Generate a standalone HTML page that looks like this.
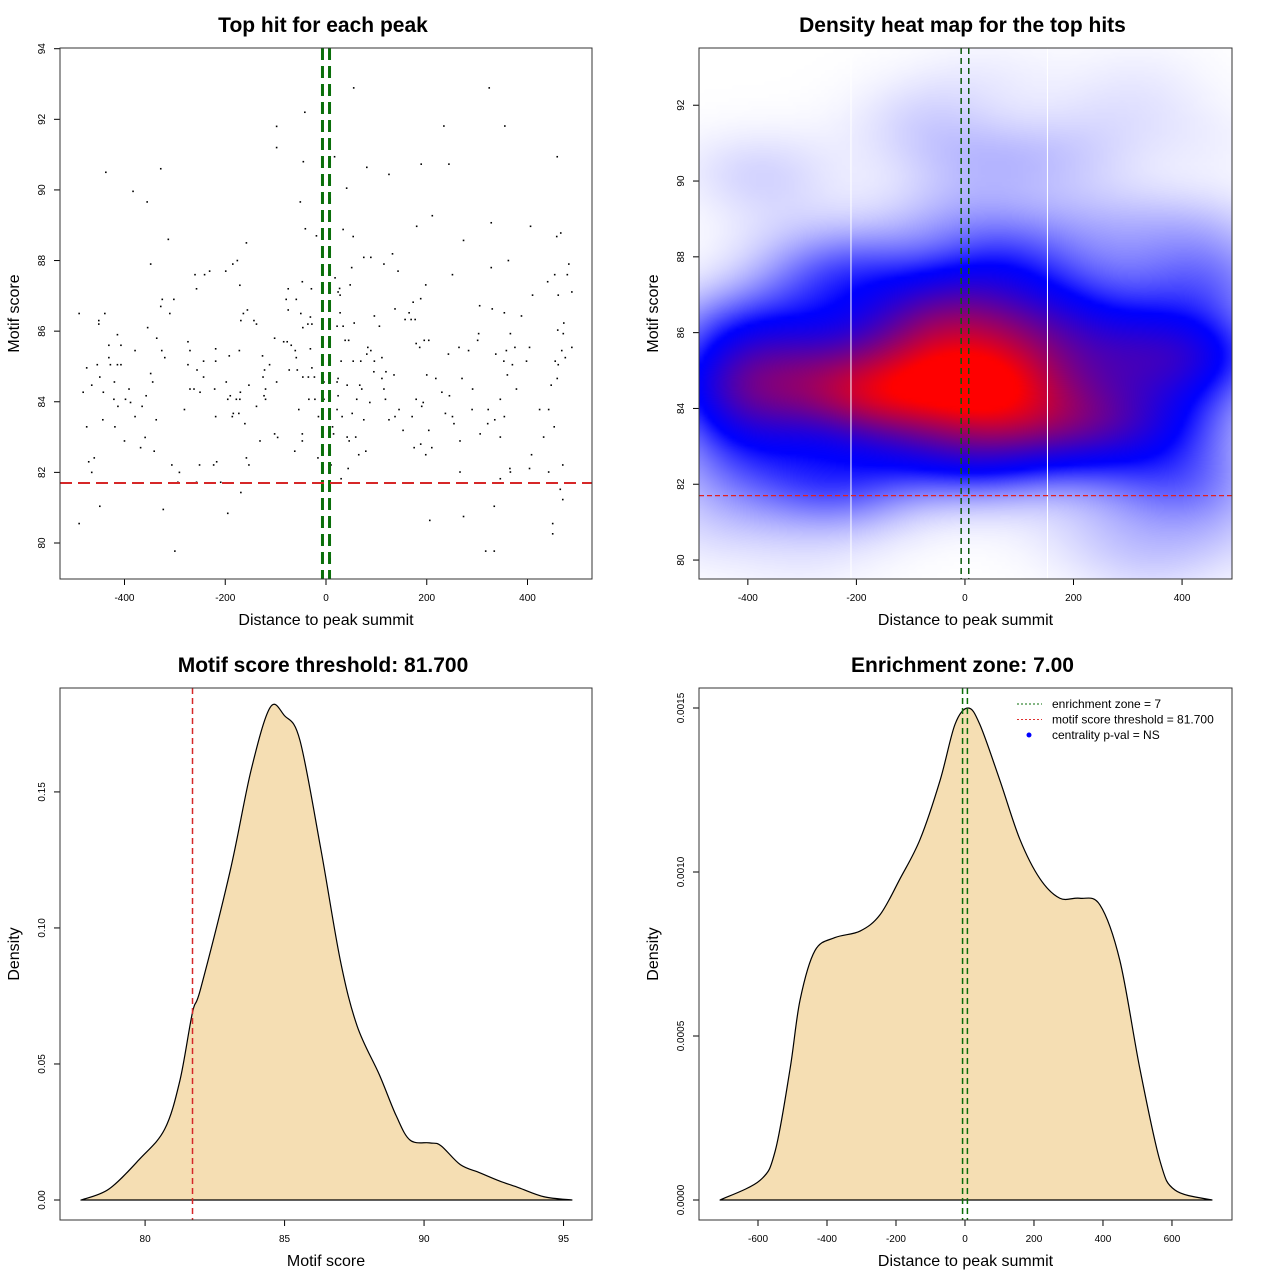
<!DOCTYPE html>
<html><head><meta charset="utf-8">
<style>
html,body{margin:0;padding:0;background:#fff;}
#wrap{position:relative;width:1280px;height:1280px;overflow:hidden;}
#heat{position:absolute;left:699px;top:48px;width:533px;height:531px;}
#chart{position:absolute;left:0;top:0;}
text{font-family:"Liberation Sans",sans-serif;fill:#000;}
</style></head>
<body>
<div id="wrap">
<canvas id="heat" width="533" height="531"></canvas>
<svg id="chart" width="1280" height="1280" xmlns="http://www.w3.org/2000/svg"></svg>
</div>
<script>
// ---- data ----
const hitX = [-42,-98,-98,-45,-437,-328,-383,-355,-51,-41,-19,-313,-158,-348,-176,-185,-260,-241,-231,-199,-257,-171,-75,-47,-29,-325,-302,-328,-310,-490,-439,-451,-451,-79,-59,-75,-50,-31,-36,-28,-46,-169,-164,-156,-143,-138,-354,-414,-431,-407,-336,-274,-379,-326,-320,-270,-219,-192,-172,-102,-84,-77,-69,-61,-59,-31,-126,-431,-454,-428,-414,-407,-475,-274,-243,-219,-112,-28,-449,-348,-256,-122,-73,-57,-420,-344,-243,-198,-125,-98,-46,-35,-23,-4,-465,-482,-442,-391,-270,-262,-250,-221,-153,-170,-120,-357,-421,-398,-388,-413,-365,-195,-190,-178,-171,-123,-120,-34,-22,-4,-281,-138,-54,-443,-379,-337,-219,-184,-186,-173,-15,-475,-419,-161,-400,-359,-368,-341,-131,-102,-96,-47,-47,-62,-460,-471,-465,-16,-306,-251,-223,-217,-158,-153,-291,-416,-294,-257,-209,-169,-449,-323,-195,-490,-300,
55,324,234,355,17,189,244,459,81,125,41,211,180,328,406,34,54,458,466,273,75,89,132,115,143,51,328,362,251,482,454,479,440,18,48,27,24,28,198,188,173,410,461,488,305,330,354,388,137,165,157,169,177,96,56,106,28,22,34,472,460,471,303,366,38,45,179,186,195,204,301,83,89,81,111,243,264,283,337,358,375,404,468,488,475,30,54,69,96,353,398,455,370,461,95,119,111,135,200,218,270,360,459,22,24,42,67,71,115,291,378,447,24,61,87,118,179,193,230,245,346,190,22,32,52,75,125,137,145,171,237,251,254,290,322,321,335,354,424,442,453,13,15,42,46,59,153,204,306,346,432,266,79,65,175,188,210,198,408,10,44,266,365,366,404,442,470,30,346,465,470,334,273,206,450,450,317,334];
const hitY = [92.2,91.8,91.2,90.8,90.5,90.6,89.96,89.66,89.66,88.9,88.7,88.6,88.5,87.9,88.0,87.9,87.6,87.6,87.7,87.7,87.2,87.3,87.2,87.4,87.2,86.9,86.9,86.7,86.5,86.5,86.5,86.3,86.2,86.9,86.9,86.6,86.5,86.4,86.2,86.2,86.1,86.3,86.5,86.6,86.3,86.2,86.1,85.9,85.6,85.6,85.8,85.7,85.45,85.45,85.25,85.45,85.5,85.3,85.45,85.8,85.7,85.7,85.6,85.45,85.25,85.5,85.3,85.25,85.05,85.05,85.05,85.05,84.96,85.05,85.15,85.15,85.05,84.96,84.7,84.8,84.9,84.9,84.9,84.9,84.56,84.56,84.7,84.56,84.7,84.56,84.7,84.7,84.7,84.56,84.47,84.27,84.27,84.36,84.36,84.36,84.27,84.36,84.47,84.27,84.36,84.17,84.07,84.07,83.98,83.87,83.87,84.07,84.17,84.07,84.07,84.17,84.07,84.07,84.07,84.07,83.78,83.87,83.78,83.49,83.58,83.49,83.58,83.67,83.58,83.67,83.58,83.29,83.29,83.38,82.89,82.99,82.7,82.6,82.89,83.09,82.99,83.09,82.89,82.6,82.41,82.3,82.0,82.41,82.21,82.21,82.21,82.3,82.41,82.21,82.0,81.7,81.72,81.72,81.72,81.43,81.04,80.95,80.84,80.55,79.77,
92.89,92.89,91.81,91.81,90.94,90.73,90.73,90.94,90.64,90.44,90.05,89.27,88.97,89.07,88.97,88.88,88.68,88.68,88.78,88.57,88.09,88.09,88.19,87.9,87.7,87.8,87.8,88.0,87.6,87.9,87.6,87.6,87.4,87.51,87.31,87.21,87.11,87.02,87.31,86.92,86.82,87.02,87.02,87.11,86.72,86.63,86.52,86.43,86.63,86.52,86.33,86.33,86.33,86.43,86.23,86.14,86.52,86.14,86.14,86.23,86.03,85.93,85.93,85.93,85.74,85.74,85.65,85.54,85.74,85.74,85.74,85.54,85.45,85.35,85.25,85.35,85.54,85.45,85.35,85.45,85.54,85.54,85.45,85.54,85.25,85.15,85.15,85.15,85.15,85.15,85.15,85.15,85.05,85.05,84.85,84.85,84.66,84.76,84.76,84.66,84.66,84.76,84.66,84.56,84.66,84.47,84.47,84.36,84.36,84.36,84.36,84.47,84.17,84.07,83.98,84.07,84.07,83.98,84.27,84.17,84.07,83.87,83.78,83.58,83.67,83.49,83.49,83.58,83.78,83.58,83.67,83.58,83.38,83.78,83.78,83.38,83.49,83.58,83.78,83.78,83.29,83.29,83.09,83.0,82.89,83.0,83.19,83.19,83.09,83.0,83.0,82.89,82.6,82.5,82.7,82.8,82.7,82.5,82.5,82.21,82.11,82.01,82.11,82.01,82.11,82.01,82.21,81.82,81.82,81.52,81.23,81.04,80.75,80.64,80.55,80.26,79.77,79.77];
const scoreThreshold = 81.7;
const enrichZone = 7;
const scoreDensX = [77.7,78.7,79.8,80.7,81.25,81.7,82,83.05,83.8,84.48,85.0,85.55,86.3,87.0,87.6,88.4,89.0,89.5,90.2,90.6,91.3,92.0,92.7,93.4,94.3,95.3];
const scoreDensY = [0,0.004,0.015,0.026,0.044,0.069,0.078,0.121,0.158,0.181,0.178,0.169,0.129,0.088,0.064,0.046,0.031,0.022,0.021,0.020,0.013,0.010,0.007,0.0045,0.0012,0];
const distDensX = [-710,-594,-550,-507,-478,-435,-377,-304,-246,-188,-130,-72,-29,9,43,101,159,217,275,333,391,449,507,565,609,716];
const distDensY = [0,0.00006,0.00015,0.0004,0.00061,0.00076,0.0008,0.00082,0.00087,0.00098,0.0011,0.00128,0.00145,0.0015,0.00145,0.00128,0.0011,0.00098,0.00092,0.00092,0.0009,0.00073,0.0004,0.00012,0.00003,0];
const p1XTicks=[-400,-200,0,200,400], p1YTicks=[80,82,84,86,88,90,92,94];
const p2XTicks=[-400,-200,0,200,400], p2YTicks=[80,82,84,86,88,90,92];
const p3XTicks=[80,85,90,95], p3YTicks=[0,0.05,0.10,0.15], p3YLabels=["0.00","0.05","0.10","0.15"];
const p4XTicks=[-600,-400,-200,0,200,400,600], p4YTicks=[0,0.0005,0.001,0.0015], p4YLabels=["0.0000","0.0005","0.0010","0.0015"];
const heatSeams=[-210,152];

const NS="http://www.w3.org/2000/svg";
const svg=document.getElementById('chart');
function el(tag,attrs,parent,txt){const e=document.createElementNS(NS,tag);for(const k in attrs)e.setAttribute(k,attrs[k]);if(txt!==undefined)e.textContent=txt;(parent||svg).appendChild(e);return e;}
function lin(d0,d1,r0,r1){return v=>r0+(v-d0)*(r1-r0)/(d1-d0);}
function smoothPath(pts){let d=`M${pts[0][0]},${pts[0][1]}`;
  for(let i=0;i<pts.length-1;i++){const p0=pts[Math.max(0,i-1)],p1=pts[i],p2=pts[i+1],p3=pts[Math.min(pts.length-1,i+2)];
    const c1x=p1[0]+(p2[0]-p0[0])/6,c1y=p1[1]+(p2[1]-p0[1])/6,c2x=p2[0]-(p3[0]-p1[0])/6,c2y=p2[1]-(p3[1]-p1[1])/6;
    d+=` C${c1x},${c1y} ${c2x},${c2y} ${p2[0]},${p2[1]}`;}return d;}

function panel(name,box,xd,yd,xt,yt,ylabels,title,xlab,ylab){
  const g=el('g',{});
  
  
  const sx=lin(xd[0],xd[1],box[0],box[2]), sy=lin(yd[0],yd[1],box[3],box[1]);
  const t=el('text',{x:(box[0]+box[2])/2-3,y:box[1]-16,'text-anchor':'middle','font-size':'21','font-weight':'bold'},g,title);
  
  const xa=el('g',{},g);
  xt.forEach(v=>{const x=sx(v);el('line',{x1:x,x2:x,y1:box[3],y2:box[3]+6,stroke:'#000'},xa);
    el('text',{x:x,y:box[3]+22,'text-anchor':'middle','font-size':'10'},xa,String(v));});
  const ya=el('g',{},g);
  yt.forEach((v,i)=>{const y=sy(v);el('line',{x1:box[0]-6,x2:box[0],y1:y,y2:y,stroke:'#000'},ya);
    el('text',{x:box[0]-15,y:y,'text-anchor':'middle','font-size':'10',transform:`rotate(-90 ${box[0]-15} ${y})`},ya,ylabels?ylabels[i]:String(v));});
  const xl=el('text',{x:(box[0]+box[2])/2,y:box[3]+46,'text-anchor':'middle','font-size':'16'},g,xlab);
  
  const yx=box[0]-41,yy=(box[1]+box[3])/2;
  const yl=el('text',{x:yx,y:yy,'text-anchor':'middle','font-size':'16',transform:`rotate(-90 ${yx} ${yy})`},g,ylab);
  
  return {g,sx,sy,box};
}
function frame(p){el('rect',{x:p.box[0],y:p.box[1],width:p.box[2]-p.box[0],height:p.box[3]-p.box[1],fill:'none',stroke:'#333','stroke-width':1},p.g);}
function clip(p,id){const c=el('clipPath',{id:id},p.g);el('rect',{x:p.box[0],y:p.box[1],width:p.box[2]-p.box[0],height:p.box[3]-p.box[1]},c);const g=el('g',{'clip-path':`url(#${id})`},p.g);return g;}

// Panel 1 scatter
const p1=panel('scatter-panel',[60,48,592,579],[-528,528],[78.98,94.02],p1XTicks,p1YTicks,null,'Top hit for each peak','Distance to peak summit','Motif score');
const c1=clip(p1,'c1');
for(let i=0;i<hitX.length;i++){const d=el('rect',{x:p1.sx(hitX[i])-0.8,y:p1.sy(hitY[i])-0.8,width:1.6,height:1.6,fill:'#000'},c1);
}
[-enrichZone,enrichZone].forEach(v=>{const l=el('line',{x1:p1.sx(v),x2:p1.sx(v),y1:48,y2:579,stroke:'#0a6e0a','stroke-width':3,'stroke-dasharray':'12 6'},c1);
});
{const l=el('line',{x1:60,x2:592,y1:p1.sy(scoreThreshold),y2:p1.sy(scoreThreshold),stroke:'#d62728','stroke-width':2,'stroke-dasharray':'12 6'},c1);
}
frame(p1);

// Panel 2 heatmap
const p2=panel('heatmap-panel',[699,48,1232,579],[-490,492],[79.5,93.51],p2XTicks,p2YTicks,null,'Density heat map for the top hits','Distance to peak summit','Motif score');
(function(){
  const cv=document.getElementById('heat'),ctx=cv.getContext('2d');
  const W=133,H=133,bx=95,by=0.75;
  const off=document.createElement('canvas');off.width=W;off.height=H;const oc=off.getContext('2d');
  const img=oc.createImageData(W,H);const dens=new Float32Array(W*H);let mx=0;
  for(let j=0;j<H;j++){const yv=93.51-(j+0.5)/H*(93.51-79.5);
    for(let i=0;i<W;i++){const xv=-490+(i+0.5)/W*982;let s=0;
      for(let k=0;k<hitX.length;k++){const dx=(xv-hitX[k])/bx,dy=(yv-hitY[k])/by;s+=Math.exp(-0.5*(dx*dx+dy*dy));}
      dens[j*W+i]=s;if(s>mx)mx=s;}}
  const tb=0.42;
  for(let n=0;n<W*H;n++){let t=dens[n]/mx;
    let r,g,b;
    if(t<tb){const u=Math.pow(t/tb,1.2);r=255*(1-u);g=255*(1-u);b=255;}
    else{const u=Math.min(1,Math.pow((t-tb)/(1-tb),1.3)*1.2);r=255*u;g=0;b=255*(1-u);}
    img.data[n*4]=r;img.data[n*4+1]=g;img.data[n*4+2]=b;img.data[n*4+3]=255;}
  oc.putImageData(img,0,0);ctx.imageSmoothingEnabled=true;ctx.drawImage(off,0,0,533,531);
})();
const c2=clip(p2,'c2');
heatSeams.forEach(v=>{const l=el('line',{x1:p2.sx(v),x2:p2.sx(v),y1:48,y2:579,stroke:'#fff','stroke-width':1},c2);
});
[-enrichZone,enrichZone].forEach(v=>{const l=el('line',{x1:p2.sx(v),x2:p2.sx(v),y1:48,y2:579,stroke:'#0a5a0a','stroke-width':1.5,'stroke-dasharray':'6 4'},c2);
});
{const l=el('line',{x1:699,x2:1232,y1:p2.sy(scoreThreshold),y2:p2.sy(scoreThreshold),stroke:'#e02020','stroke-width':1.2,'stroke-dasharray':'5 3'},c2);
}
frame(p2);

// Panel 3 score density
const p3=panel('score-density-panel',[60,688,592,1220],[76.95,96.02],[-0.00735,0.1882],p3XTicks,p3YTicks,p3YLabels,'Motif score threshold: 81.700','Motif score','Density');
const c3=clip(p3,'c3');
{const pts=scoreDensX.map((x,i)=>[p3.sx(x),p3.sy(scoreDensY[i])]);
const a=el('path',{d:smoothPath(pts)+' Z',fill:'#f5deb3',stroke:'#000','stroke-width':1.2,'stroke-linejoin':'round'},c3);
}
{const l=el('line',{x1:p3.sx(scoreThreshold),x2:p3.sx(scoreThreshold),y1:688,y2:1220,stroke:'#d62728','stroke-width':1.5,'stroke-dasharray':'6 4'},c3);
}
frame(p3);

// Panel 4 distance density
const p4=panel('distance-density-panel',[699,688,1232,1220],[-771,774],[-0.000061,0.001561],p4XTicks,p4YTicks,p4YLabels,'Enrichment zone: 7.00','Distance to peak summit','Density');
const c4=clip(p4,'c4');
{const pts=distDensX.map((x,i)=>[p4.sx(x),p4.sy(distDensY[i])]);
const a=el('path',{d:smoothPath(pts)+' Z',fill:'#f5deb3',stroke:'#000','stroke-width':1.2,'stroke-linejoin':'round'},c4);
}
[-enrichZone,enrichZone].forEach(v=>{const l=el('line',{x1:p4.sx(v),x2:p4.sx(v),y1:688,y2:1220,stroke:'#0a6e0a','stroke-width':1.5,'stroke-dasharray':'6 4'},c4);
});
frame(p4);
// legend
const lg=el('g',{},p4.g);
const legItems=[['enrichment zone = 7','#0a6e0a','line'],['motif score threshold = 81.700','#e03030','line'],['centrality p-val = NS','#0000ff','dot']];
legItems.forEach((it,i)=>{const y=704+i*15.5;const e=el('g',{},lg);
  if(it[2]==='line')el('line',{x1:1017,x2:1042,y1:y,y2:y,stroke:it[1],'stroke-width':1,'stroke-dasharray':'2 2'},e);
  else el('circle',{cx:1029,cy:y,r:2.5,fill:it[1]},e);
  el('text',{x:1052,y:y+4,'font-size':'12'},e,it[0]);});
</script>
</body></html>
